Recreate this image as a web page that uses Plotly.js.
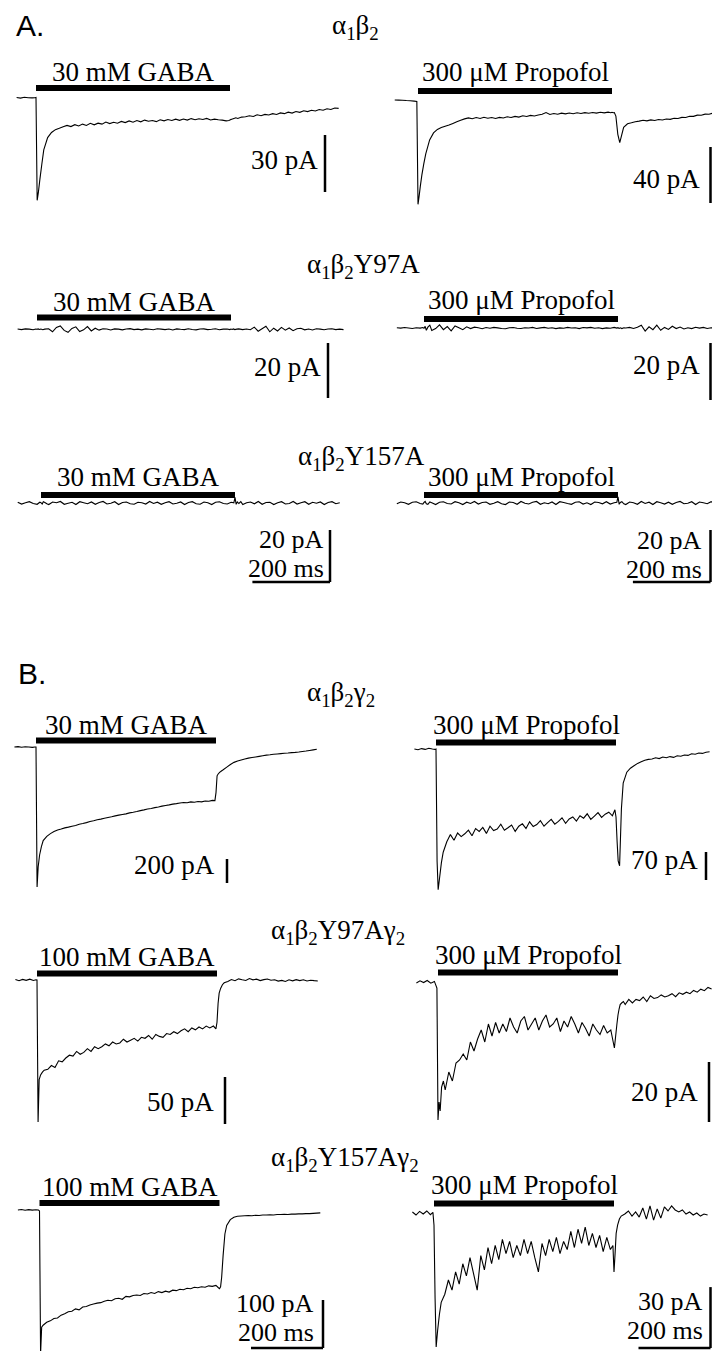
<!DOCTYPE html>
<html><head><meta charset="utf-8">
<script src="https://cdn.plot.ly/plotly-3.0.1.min.js"></script>
<style>html,body{margin:0;padding:0;background:#fff}#chart{width:712px;height:1351px}</style>
</head><body><div id="chart"></div>
<script>
// ---------- DATA ----------
// shared sample times (ms, 0 = drug application onset)
const timeMs = [
 -80,-70,-60,-50,-40,-30,-20,-10,-3,0,
 3,6,10,15,20,30,40,50,60,70,
 80,90,100,110,120,130,140,150,160,170,
 180,190,200,210,220,230,240,250,260,270,
 280,290,300,310,320,330,340,350,360,370,
 380,390,400,410,420,430,440,450,460,470,
 480,490,497,500,503,506,510,515,520,530,
 540,550,560,570,580,590,600,610,620,630,
 640,650,660,670,680,690,700,710,720,730,
 740,750,760,770,780,790,800,810,820
];
// currents in pA (inward negative), aligned with timeMs
const gabaA1_pA = [
 null,null,null,0.1,-0.2,0.2,0,-0.1,0,0.1,
 -54,-50,-43,-35,-27.5,-21,-18.3,-16.8,-16.1,-15.3,
 -14.6,-15.2,-14.2,-14.9,-13.9,-14.6,-13.5,-14.3,-13.4,-13.9,
 -12.8,-13.6,-12.9,-13.4,-12.5,-13.1,-12.2,-12.9,-12.0,-12.7,
 -11.8,-12.4,-12.0,-12.6,-11.6,-12.2,-11.5,-12.0,-11.3,-11.9,
 -11.2,-11.8,-11.0,-11.6,-11.1,-11.5,-10.9,-11.7,-11.3,-11.6,
 -11.8,-12.2,-12.0,-11.7,-11.4,-11.2,-10.9,-10.6,-10.9,-10.2,
 -10.0,-9.5,-9.9,-9.0,-9.5,-8.8,-9.1,-8.4,-8.8,-8.0,
 -8.4,-7.6,-8.1,-7.3,-7.7,-6.9,-7.3,-6.6,-7.0,-6.2,
 -6.6,-5.8,-6.2,-5.4,-5.6,null,null,null,null
];
const propofolA1_pA = [
 null,null,0.5,0.4,0.3,0.1,0.0,-0.3,-0.6,-74,
 -68,-61,-53,-45,-38,-28,-23,-20.5,-19.2,-18.2,
 -17.4,-16.2,-15.0,-14.0,-13.0,-12.3,-12.9,-12.0,-12.7,-11.8,
 -12.5,-12.0,-12.7,-11.9,-12.3,-11.5,-12.0,-11.2,-11.7,-10.8,
 -11.3,-10.5,-10.9,-10.2,-9.7,-8.5,-9.8,-9.2,-9.7,-8.9,
 -9.4,-8.8,-9.3,-8.6,-9.1,-8.5,-9.0,-8.4,-8.9,-8.3,
 -8.7,-8.2,-8.6,-8.3,-8.6,-8.5,-11,-24,-30,-19,
 -16.5,-15.8,-15.0,-14.6,-14.0,-14.4,-13.7,-14.1,-13.4,-13.8,
 -13.1,-13.3,-12.5,-12.7,-11.9,-12.0,-11.1,-11.2,-10.3,-10.4,
 -9.6,-9.7,-8.9,-8.8,null,null,null,null,null
];
const gabaA2_pA = [
 null,null,null,0.1,-0.1,0.15,0.05,-0.15,0.1,0,
 0.15,-0.05,0.1,-0.15,0.05,0.2,-0.9,0.7,1.2,-0.4,
 -1.1,0.3,0.9,-0.8,-0.2,1.0,-0.6,0.4,-0.3,0.2,
 0.1,-0.25,0.15,0.05,-0.2,0.1,0.25,-0.1,0.05,-0.2,
 0.15,0,-0.15,0.2,0.05,-0.1,0.1,-0.25,0.15,0,
 -0.1,0.2,-0.05,-0.2,0.1,0.15,-0.1,0,0.2,-0.15,
 0.05,0.1,-0.1,0.1,-0.05,0.15,-0.1,0.05,0.15,-0.1,
 0.1,-0.15,0.8,-0.7,0.2,1.1,-0.9,0.4,-0.6,0.7,
 -0.3,0.5,-0.5,0.2,0.4,-0.2,0.1,-0.25,0.2,0.05,
 -0.15,0.1,0.2,-0.1,0.05,-0.1,null,null,null
];
const propofolA2_pA = [
 null,0.1,-0.05,0.15,0,-0.15,0.1,-0.05,0.15,-0.1,
 0.6,-0.8,0.3,1.0,-0.9,-0.2,1.1,-0.6,0.5,-1.0,
 0.7,0.1,-0.6,0.4,-0.2,0.3,0.1,-0.25,0.15,-0.1,
 0.2,0.05,-0.15,-0.25,0.1,0.15,-0.1,-0.2,0.1,0,
 0.2,-0.15,0.05,0.2,-0.1,0.1,-0.2,0.05,-0.1,0.2,
 0,0.1,-0.2,0.15,0.05,0.2,-0.1,0.1,-0.2,0.05,
 -0.1,0.2,-0.05,0.1,-0.15,0.05,-0.2,0.1,0,0.2,
 -0.15,0.3,1.0,-1.1,0.4,-0.6,1.0,-0.8,0.2,-0.5,
 0.6,-0.2,0.35,-0.35,0.1,-0.2,0.25,-0.05,0.2,-0.15,
 0.1,-0.1,0.1,null,null,null,null,null,null
];
const gabaA3_pA = [
 null,null,0.3,-0.4,0.1,0.5,-0.2,-0.5,0.3,0.1,
 -0.4,0.5,0.2,-0.3,-0.6,0.4,0.1,0.6,-0.5,-0.1,
 0.3,-0.6,0.5,0.1,-0.3,0.4,-0.5,0.2,0.6,-0.4,
 -0.1,0.5,-0.6,0.2,0.4,-0.3,-0.5,0.3,0.1,-0.4,
 0.6,-0.2,0.3,-0.5,0.1,0.5,-0.4,-0.1,0.4,-0.6,
 0.2,0.5,-0.3,-0.5,0.4,0.1,-0.6,0.3,0.5,-0.2,
 -0.4,0.3,0.1,2.2,-0.5,0.4,-0.2,0.5,-0.6,0.1,
 0.4,-0.3,0.6,-0.5,0.2,0.3,-0.6,0.1,0.5,-0.4,
 -0.2,0.6,-0.4,0.1,0.5,-0.5,0.3,-0.1,0.4,-0.6,
 0.2,0.5,-0.3,0.1,null,null,null,null,null
];
const propofolA3_pA = [
 null,-0.3,0.4,0.1,-0.5,0.3,0.5,-0.2,-0.4,0.2,
 0.6,-0.3,-0.5,0.4,0.1,-0.6,0.3,0.5,-0.2,-0.4,
 0.5,0.1,-0.6,0.3,-0.2,0.6,-0.4,0.2,0.4,-0.5,
 -0.1,0.5,-0.3,-0.6,0.4,0.2,-0.5,0.6,-0.1,-0.4,
 0.3,0.6,-0.5,0.1,-0.3,0.4,-0.6,0.5,0.2,-0.2,
 -0.5,0.3,0.5,-0.4,0.1,-0.6,0.4,0.2,-0.3,0.5,
 -0.4,0.1,0.3,2.4,-0.5,0.2,0.5,-0.3,-0.6,0.4,
 0.1,-0.5,0.6,-0.2,0.3,-0.6,0.5,0.1,-0.4,0.3,
 -0.5,0.2,0.6,-0.3,-0.1,0.5,-0.6,0.4,0.1,-0.3,
 0.5,-0.4,0.2,null,null,null,null,null,null
];
const gabaB1_pA = [
 null,null,0,3,-2,2,0,-3,0,0,
 -1167,-1000,-900,-830,-780,-745,-722,-705,-692,-684,
 -674,-668,-661,-654,-643,-638,-630,-621,-614,-606,
 -601,-594,-587,-581,-574,-568,-562,-557,-549,-544,
 -538,-530,-524,-517,-512,-505,-500,-493,-487,-482,
 -476,-472,-467,-462,-464,-457,-460,-454,-457,-450,
 -452,-445,-447,-380,-240,-225,-212,-200,-190,-168,
 -146,-128,-117,-108,-100,-93,-88,-83,-78,-73,
 -68,-65,-61,-58,-55,-52,-50,-47,-45,-42,
 -38,-34,-29,-24,-19,null,null,null,null
];
const propofolB1_pA = [
 null,null,0,-2,1,-1,2,0,-1,0,
 -280,-352,-322,-284,-258,-232,-214,-228,-210,-219,
 -212,-203,-217,-199,-206,-196,-211,-193,-204,-200,
 -188,-203,-197,-190,-206,-193,-187,-199,-182,-194,
 -189,-179,-193,-184,-176,-188,-181,-172,-186,-175,
 -170,-180,-167,-173,-162,-176,-168,-159,-171,-163,
 -158,-167,-152,-170,-230,-280,-292,-150,-85,-58,
 -48,-42,-36,-32,-28,-26,-25,-22,-24,-20,
 -22,-19,-21,-17,-18,-15,-16,-12,-13,-10,
 -11,-8,-7,null,null,null,null,null,null
];
const gabaB2_pA = [
 null,null,0.5,-0.8,0.6,-0.4,0.9,-0.5,0.3,0,
 -151,-106,-101,-98,-96,-95,-91,-93,-86,-87,
 -83,-80,-81,-76,-79,-77,-73,-76,-71,-73,
 -71,-68,-70,-66,-68,-67,-63,-66,-64,-62,
 -65,-61,-62,-59,-63,-58,-60,-61,-57,-58,
 -55,-57,-54,-52,-55,-51,-53,-50,-52,-49,
 -51,-49,-52,-45,-25,-14,-9,-5,-3,-1.5,
 0.5,-0.8,1.2,0.3,-0.5,1.5,0.2,0.9,-0.6,0.4,
 1.0,-0.2,0.3,-1.2,-0.4,-1.5,0.2,-0.9,0.4,-0.6,
 0.3,-1.1,-0.2,-0.7,-1,null,null,null,null
];
const propofolB2_pA = [
 null,null,-0.3,0.4,-0.2,0.5,-0.4,0.2,-2,-46,
 -40,-43,-35,-33,-36,-30,-33,-27,-26,-24,
 -26,-20,-23,-19,-16,-20,-14,-18,-13.5,-17,
 -14,-16.5,-12,-15,-17,-13,-11.5,-16,-14,-12,
 -16,-13,-11,-15,-14,-12,-16.5,-13,-15,-11.5,
 -14,-17,-13.5,-15.5,-18,-14,-16,-17.5,-14.5,-17,
 -16,-22,-14,-11,-9,-7.5,-7,-6.5,-7.5,-5.8,
 -7,-5.8,-6.2,-5,-6.5,-4.6,-5.5,-5.2,-4.3,-5.0,
 -4.6,-3.9,-4.9,-3.6,-4.1,-3.4,-3.9,-2.8,-3.4,-2.4,
 -2.9,-1.8,-2.3,null,null,null,null,null,null
];
const gabaB3_pA = [
 null,null,0,1,-0.5,0.8,-0.3,0.5,0,-2,
 -300,-244,-240,-237,-234,-231,-226,-225,-219,-216,
 -212,-211,-206,-208,-202,-201,-198,-196,-194,-193,
 -190,-188,-189,-185,-184,-186,-180,-181,-178,-177,
 -178,-174,-175,-172,-174,-170,-172,-169,-171,-167,
 -168,-165,-166,-163,-164,-161,-162,-160,-161,-158,
 -159,-157,-162,-164,-160,-140,-95,-50,-32,-20,
 -15,-13,-12.5,-12,-11.5,-12,-11,-11.5,-10.5,-10.5,
 -10,-10.5,-9.5,-9.5,-9,-9.5,-8.5,-8.5,-8,-8,
 -7.5,-7.5,-7,-6.5,-6,null,null,null,null
];
const propofolB3_pA = [
 null,null,0.5,-1,0.8,-0.5,1,-0.8,0.3,-6,
 -42,-66,-58,-50,-44,-40,-33,-38,-29,-35,
 -25,-31,-22,-30,-38,-21,-28,-17,-25,-16,
 -23,-13,-20,-14,-22,-16,-21,-13,-20,-14,
 -22,-29,-15,-21,-13,-19,-12,-20,-14,-18,
 -9,-17,-8,-15,-7,-16,-10,-17,-11,-19,
 -12,-18,-16,-29,-20,-10,-6,-3,-1.5,-0.5,
 1,-1.5,0.5,-2,2.5,-3,3.5,-3.5,2,-2.5,
 3,1,3.5,1.5,0.5,1.5,-0.5,0.5,-1,0,
 -1.5,-0.5,-1,null,null,null,null,null,null
];
const receptorTitles = [
 'α<sub>1</sub>β<sub>2</sub>',
 'α<sub>1</sub>β<sub>2</sub>Y97A',
 'α<sub>1</sub>β<sub>2</sub>Y157A',
 'α<sub>1</sub>β<sub>2</sub>γ<sub>2</sub>',
 'α<sub>1</sub>β<sub>2</sub>Y97Aγ<sub>2</sub>',
 'α<sub>1</sub>β<sub>2</sub>Y157Aγ<sub>2</sub>'
];
const drugLabels = [
 '30 mM GABA','300 μM Propofol',
 '30 mM GABA','300 μM Propofol',
 '30 mM GABA','300 μM Propofol',
 '30 mM GABA','300 μM Propofol',
 '100 mM GABA','300 μM Propofol',
 '100 mM GABA','300 μM Propofol'
];
const scaleBarPA = [30,40,20,20,20,20,200,70,50,20,100,30];
const scaleBarMs = 200;
const drugDurationMs = 500;
const panelLetters = ['A.','B.'];

// ---------- LAYOUT GEOMETRY (pixels) ----------
const W = 712, H = 1351;
const series = [gabaA1_pA,propofolA1_pA,gabaA2_pA,propofolA2_pA,gabaA3_pA,propofolA3_pA,
                gabaB1_pA,propofolB1_pA,gabaB2_pA,propofolB2_pA,gabaB3_pA,propofolB3_pA];
const geo = [
 {col:0,top:40,bot:230,x0:36,y0:97.7,kx:0.388,ky:1.9,barY:88,sx:325,sb:192,lr:319,lb:168,db:80},
 {col:1,top:40,bot:230,x0:418,y0:100.7,kx:0.388,ky:1.4,barY:91,sx:710.5,sb:203,lr:701,lb:187,db:80},
 {col:0,top:282,bot:420,x0:37,y0:329.3,kx:0.388,ky:2.75,barY:317.5,sx:328,sb:398,lr:322,lb:375,db:310},
 {col:1,top:282,bot:420,x0:424,y0:328,kx:0.388,ky:2.85,barY:319,sx:710.5,sb:400,lr:701,lb:373,db:308},
 {col:0,top:470,bot:600,x0:41,y0:503,kx:0.388,ky:2.6,barY:495,sx:330,sb:582,lr:325,lb:547,db:485,tb:576.5},
 {col:1,top:470,bot:600,x0:424,y0:503,kx:0.388,ky:2.6,barY:495,sx:710.5,sb:582,lr:703,lb:548,db:485,tb:577.5},
 {col:0,top:712,bot:910,x0:36,y0:747,kx:0.36,ky:0.12,barY:740.5,sx:227,sb:883,lr:216,lb:873,db:733},
 {col:1,top:712,bot:910,x0:436,y0:749,kx:0.36,ky:0.4,barY:742.5,sx:706,sb:880,lr:699,lb:868,db:733},
 {col:0,top:942,bot:1142,x0:37,y0:980,kx:0.36,ky:0.94,barY:973.5,sx:225,sb:1124,lr:215,lb:1110,db:965},
 {col:1,top:942,bot:1142,x0:438,y0:982,kx:0.36,ky:3,barY:972.5,sx:709,sb:1122,lr:699,lb:1100,db:963},
 {col:0,top:1172,bot:1351,x0:39.5,y0:1210,kx:0.36,ky:0.48,barY:1203,sx:323,sb:1348,lr:315,lb:1311,db:1195,tb:1340.5},
 {col:1,top:1172,bot:1351,x0:434,y0:1213,kx:0.36,ky:2.03,barY:1203.5,sx:710.5,sb:1348,lr:704,lb:1309,db:1193,tb:1338.5}
];
const titlePos = [[355,33],[363,272],[361,464],[341,700],[338,938],[345,1165]];
const letterPos = [[15,35],[17,683]];

const SERIF = 'Liberation Serif, Times New Roman, serif';
const SANS = 'Liberation Sans, Arial, sans-serif';
const FS = 27, FS_STACK = 26;

function textAt(text, xpx, basePx, xanchor, size, family, xref, xval){
  const asc = family.indexOf('Sans') >= 0 ? 0.905 : 0.891;
  return {text:text, xref:xref||'paper', yref:'paper',
    x: xref ? xval : xpx / W, y: 1 - (basePx - asc*size) / H,
    xanchor:xanchor, yanchor:'top', showarrow:false, borderpad:0,
    font:{family:family, size:size, color:'#000'}};
}

const data = [];
const layout = {width:W, height:H, margin:{l:0,r:0,t:0,b:0},
  paper_bgcolor:'#fff', plot_bgcolor:'rgba(0,0,0,0)', showlegend:false,
  hovermode:false, shapes:[], annotations:[]};

geo.forEach(function(p, i){
  const n = i + 1, s = n === 1 ? '' : String(n);
  const xr = 'x' + s, yr = 'y' + s;
  const colL = p.col ? 356 : 0, colR = p.col ? 712 : 356;
  const tOf = function(px){ return (px - p.x0) / p.kx; };
  const vOf = function(py){ return (p.y0 - py) / p.ky; };
  layout['xaxis' + s] = {domain:[colL/W, colR/W], range:[tOf(colL), tOf(colR)],
    visible:false, fixedrange:true, anchor:yr};
  layout['yaxis' + s] = {domain:[1 - p.bot/H, 1 - p.top/H], range:[vOf(p.bot), vOf(p.top)],
    visible:false, fixedrange:true, anchor:xr};
  data.push({x:timeMs, y:series[i], xaxis:xr, yaxis:yr, type:'scatter', mode:'lines',
    line:{color:'#000', width:1.1, simplify:false}, connectgaps:false, hoverinfo:'skip'});
  // drug application bar
  layout.shapes.push({type:'rect', xref:xr, yref:yr, x0:0, x1:drugDurationMs,
    y0:vOf(p.barY + 3), y1:vOf(p.barY - 3), fillcolor:'#000', line:{width:0}});
  // current scale bar
  const sxT = tOf(p.sx), sbV = vOf(p.sb);
  layout.shapes.push({type:'line', xref:xr, yref:yr, x0:sxT, x1:sxT, y0:sbV, y1:sbV + scaleBarPA[i],
    line:{color:'#000', width:2.5}});
  const fs = p.tb ? FS_STACK : FS;
  if (p.tb) {
    layout.shapes.push({type:'line', xref:xr, yref:yr, x0:sxT - scaleBarMs, x1:sxT, y0:sbV, y1:sbV,
      line:{color:'#000', width:2.5}});
    layout.annotations.push(textAt(scaleBarMs + ' ms', p.lr, p.tb, 'right', fs, SERIF));
  }
  layout.annotations.push(textAt(scaleBarPA[i] + ' pA', p.lr, p.lb, 'right', fs, SERIF));
  layout.annotations.push(textAt(drugLabels[i], 0, p.db, 'center', FS, SERIF, xr, drugDurationMs/2));
});
receptorTitles.forEach(function(t, i){
  layout.annotations.push(textAt(t, titlePos[i][0], titlePos[i][1], 'center', FS, SERIF));
});
panelLetters.forEach(function(t, i){
  layout.annotations.push(textAt(t, letterPos[i][0], letterPos[i][1], 'left', 30, SANS));
});

Plotly.newPlot('chart', data, layout, {staticPlot:true, displayModeBar:false});
</script>
</body></html>
